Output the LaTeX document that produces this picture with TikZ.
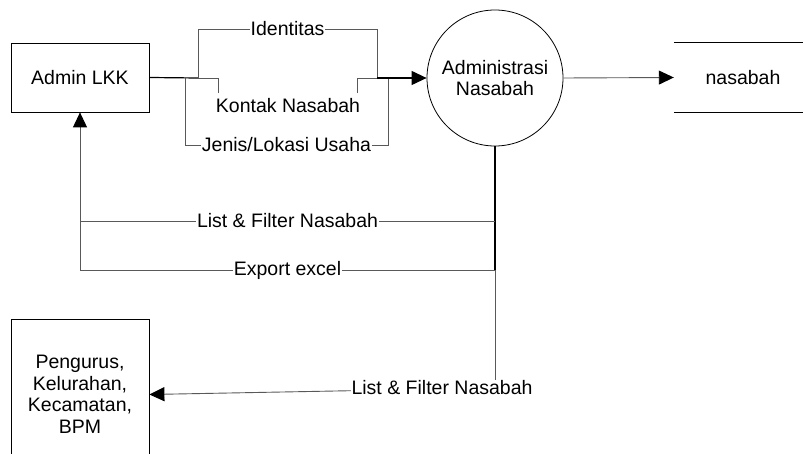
\documentclass[tikz,border=0pt]{standalone}
\usepackage{fontspec}
\setmainfont{Liberation Sans}
\usetikzlibrary{arrows.meta}
\begin{document}
\begin{tikzpicture}[x=1pt,y=-1pt,
  every node/.style={font=\fontsize{19.5}{21.5}\selectfont, inner sep=1pt},
  entity/.style={draw, line width=0.8pt, minimum width=138pt, align=center},
  proc/.style={draw, circle, line width=0.8pt, minimum size=136pt, align=center, inner sep=0pt},
  flow/.style={draw=black!65, line width=0.9pt},
  trunk/.style={draw=black, line width=1.2pt},
  tip/.style={-{Triangle[length=15pt,width=14pt,color=black,fill=black]}},
  lbl/.style={fill=white}]
\clip (0,0) rectangle (803,454);
\fill[white] (0,0) rectangle (803,454);

% nodes
\node[entity, minimum height=69pt] (admin) at (80,77.5) {Admin LKK};
\node[proc] (proc) at (495,78) {Administrasi\\Nasabah};
\node[minimum width=129pt, minimum height=69pt, inner sep=0pt] (store) at (738.5,77.5) {};
\draw[line width=0.8pt] (store.north west) -- (store.north east);
\draw[line width=0.8pt] (store.south west) -- (store.south east);
\node (storelbl) at (743,78) {nasabah};
\node[entity, minimum height=151pt] (peng) at (80,394.5) {Pengurus,\\Kelurahan,\\Kecamatan,\\BPM};

% junction coordinates
\coordinate (j1) at (185,78);
\coordinate (j2) at (198,78);
\coordinate (j3) at (377,78);
\coordinate (j4) at (388,78);
\coordinate (d1) at (495,221);
\coordinate (d2) at (495,270);

% admin -> process
\draw[trunk] (admin.east) -- (j2);
\draw[flow] (j2) -- (198,29) -- node[lbl] (lid) {Identitas} (377,29) -- (j3);
\draw[flow] (j2) -- (218,78) -- (218,93);
\node (lkon) at (288,106) {Kontak Nasabah};
\draw[flow] (357,93) -- (357,78) -- (j3);
\draw[flow] (j1) -- (185,145) -- node[lbl] (ljen) {Jenis/Lokasi Usaha} (388,145) -- (j4);
\draw[trunk, tip] (j3) -- (proc.west);

% process -> store
\draw[flow, tip] (proc.east) -- (store.west);

% process -> admin
\draw[trunk] (proc.south) -- (d2);
\draw[flow] (d1) -- node[lbl] (llist) {List \& Filter Nasabah} (80,221);
\draw[flow, tip] (d2) -- node[lbl] (lexp) {Export excel} (80,270) -- (admin.south);

% process -> pengurus
\draw[flow] (d2) -- (495,388);
\draw[flow, tip] (495,388) -- (peng.east);
\node[lbl] (lbot) at (442,388) {List \& Filter Nasabah};
\end{tikzpicture}
\end{document}
